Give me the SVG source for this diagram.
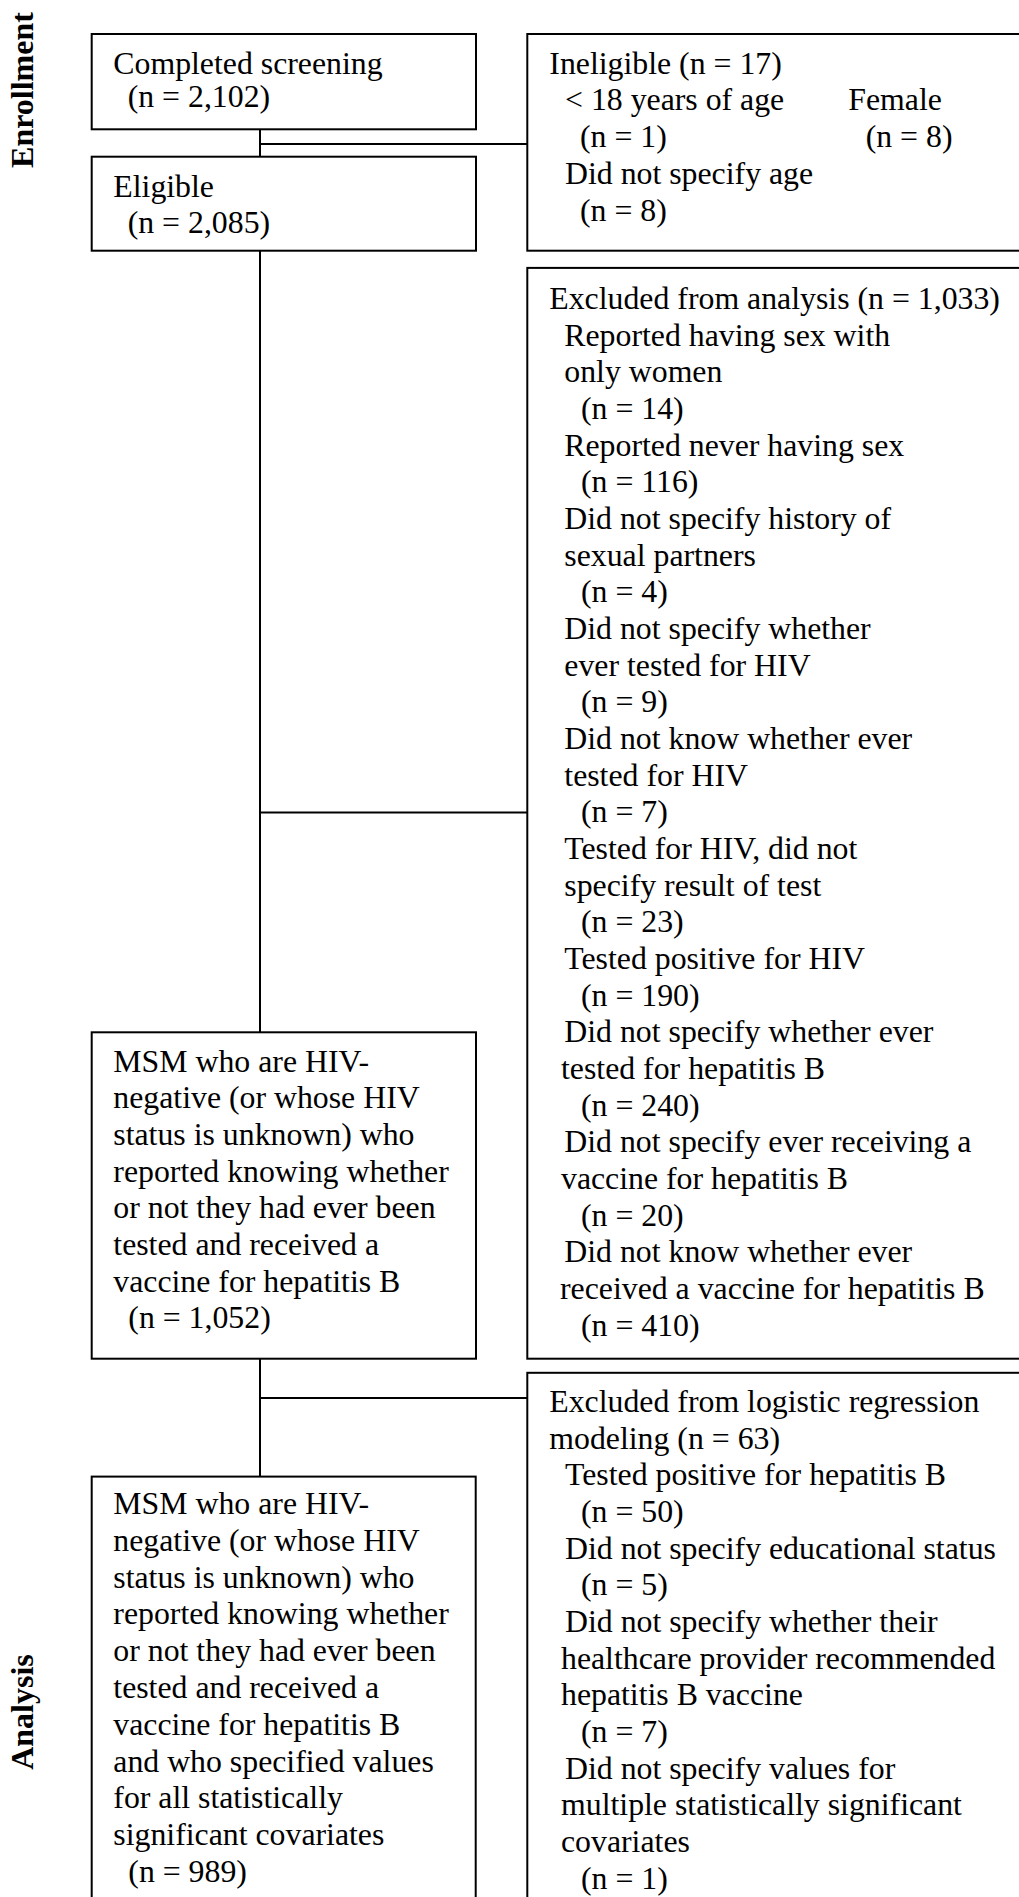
<svg xmlns="http://www.w3.org/2000/svg" width="1019" height="1897" viewBox="0 0 1019 1897">
<style>
.box{fill:#fff;stroke:#000;stroke-width:2}
.t{font-family:"Liberation Serif","Times New Roman",serif;font-size:31.8px;fill:#000}
.lbl{font-family:"Liberation Serif","Times New Roman",serif;font-size:32px;font-weight:bold;fill:#000}
.c{fill:none;stroke:#000;stroke-width:2}
</style>
<rect width="1019" height="1897" fill="#fff"/>
<g id="connectors">
<path class="c" d="M260 129.3V156.7M260 144H527.3"/>
<path class="c" d="M260 250.7V1032.3M260 812.6H527.3"/>
<path class="c" d="M260 1358.7V1476.6M260 1398H527.3"/>
</g>
<g id="label-enrollment"><text class="lbl" text-anchor="middle" transform="translate(33.3,90) rotate(-90)">Enrollment</text></g>
<g id="label-analysis"><text class="lbl" text-anchor="middle" transform="translate(33.3,1712) rotate(-90)">Analysis</text></g>
<g id="completed">
<rect class="box" x="91.7" y="34" width="384.3" height="95.3"/>
<text class="t"><tspan x="113.3" y="74">Completed screening</tspan><tspan x="127.7" y="106.7">(n = 2,102)</tspan></text>
</g>
<g id="eligible">
<rect class="box" x="91.7" y="156.7" width="384.3" height="94"/>
<text class="t"><tspan x="113.3" y="196.7">Eligible</tspan><tspan x="127.7" y="233.3">(n = 2,085)</tspan></text>
</g>
<g id="ineligible">
<rect class="box" x="527.3" y="34" width="520" height="216.7"/>
<text class="t"><tspan x="549.3" y="74">Ineligible (n = 17)</tspan><tspan x="565" y="110">&lt; 18 years of age</tspan><tspan x="848.3" y="110">Female</tspan><tspan x="580" y="146.7">(n = 1)</tspan><tspan x="865.7" y="146.7">(n = 8)</tspan><tspan x="565" y="184.3">Did not specify age</tspan><tspan x="580" y="220.7">(n = 8)</tspan></text>
</g>
<g id="excluded-analysis">
<rect class="box" x="527.3" y="267.9" width="520" height="1090.8"/>
<text class="t">
<tspan x="549.3" y="308.9">Excluded from analysis (n = 1,033)</tspan>
<tspan x="564.3" y="345.6">Reported having sex with</tspan>
<tspan x="564.3" y="382.2">only women</tspan>
<tspan x="581" y="418.9">(n = 14)</tspan>
<tspan x="564.3" y="455.6">Reported never having sex</tspan>
<tspan x="581" y="492.2">(n = 116)</tspan>
<tspan x="564.3" y="528.9">Did not specify history of</tspan>
<tspan x="564.3" y="565.6">sexual partners</tspan>
<tspan x="581" y="602.3">(n = 4)</tspan>
<tspan x="564.3" y="638.9">Did not specify whether</tspan>
<tspan x="564.3" y="675.6">ever tested for HIV</tspan>
<tspan x="581" y="712.3">(n = 9)</tspan>
<tspan x="564.3" y="748.9">Did not know whether ever</tspan>
<tspan x="564.3" y="785.6">tested for HIV</tspan>
<tspan x="581" y="822.3">(n = 7)</tspan>
<tspan x="564.3" y="858.9">Tested for HIV, did not</tspan>
<tspan x="564.3" y="895.6">specify result of test</tspan>
<tspan x="581" y="932.3">(n = 23)</tspan>
<tspan x="564.3" y="969">Tested positive for HIV</tspan>
<tspan x="581" y="1005.6">(n = 190)</tspan>
<tspan x="564.3" y="1042.3">Did not specify whether ever</tspan>
<tspan x="561" y="1079">tested for hepatitis B</tspan>
<tspan x="581" y="1115.6">(n = 240)</tspan>
<tspan x="564.3" y="1152.3">Did not specify ever receiving a</tspan>
<tspan x="561" y="1189">vaccine for hepatitis B</tspan>
<tspan x="581" y="1225.7">(n = 20)</tspan>
<tspan x="564.3" y="1262.3">Did not know whether ever</tspan>
<tspan x="560" y="1299">received a vaccine for hepatitis B</tspan>
<tspan x="581" y="1335.7">(n = 410)</tspan>
</text>
</g>
<g id="msm-known">
<rect class="box" x="91.7" y="1032.3" width="384.3" height="326.4"/>
<text class="t">
<tspan x="113.3" y="1071.7">MSM who are HIV-</tspan>
<tspan x="113.3" y="1108.3">negative (or whose HIV</tspan>
<tspan x="113.3" y="1145">status is unknown) who</tspan>
<tspan x="113.3" y="1181.6">reported knowing whether</tspan>
<tspan x="113.3" y="1218.3">or not they had ever been</tspan>
<tspan x="113.3" y="1254.9">tested and received a</tspan>
<tspan x="113.3" y="1291.6">vaccine for hepatitis B</tspan>
<tspan x="128.3" y="1328.2">(n = 1,052)</tspan>
</text>
</g>
<g id="excluded-logistic">
<rect class="box" x="527.3" y="1372.8" width="520" height="600"/>
<text class="t">
<tspan x="549.3" y="1412.1">Excluded from logistic regression</tspan>
<tspan x="549.3" y="1448.7">modeling (n = 63)</tspan>
<tspan x="565" y="1485.4">Tested positive for hepatitis B</tspan>
<tspan x="581" y="1522">(n = 50)</tspan>
<tspan x="565" y="1558.7">Did not specify educational status</tspan>
<tspan x="581" y="1595.3">(n = 5)</tspan>
<tspan x="565" y="1632">Did not specify whether their</tspan>
<tspan x="561" y="1668.6">healthcare provider recommended</tspan>
<tspan x="561" y="1705.3">hepatitis B vaccine</tspan>
<tspan x="581" y="1741.9">(n = 7)</tspan>
<tspan x="565" y="1778.6">Did not specify values for</tspan>
<tspan x="561" y="1815.2">multiple statistically significant</tspan>
<tspan x="561" y="1851.9">covariates</tspan>
<tspan x="581" y="1888.5">(n = 1)</tspan>
</text>
</g>
<g id="msm-analysis">
<rect class="box" x="91.7" y="1476.6" width="384" height="500"/>
<text class="t">
<tspan x="113.3" y="1514">MSM who are HIV-</tspan>
<tspan x="113.3" y="1550.8">negative (or whose HIV</tspan>
<tspan x="113.3" y="1587.6">status is unknown) who</tspan>
<tspan x="113.3" y="1624.4">reported knowing whether</tspan>
<tspan x="113.3" y="1661.2">or not they had ever been</tspan>
<tspan x="113.3" y="1698">tested and received a</tspan>
<tspan x="113.3" y="1734.8">vaccine for hepatitis B</tspan>
<tspan x="113.3" y="1771.6">and who specified values</tspan>
<tspan x="113.3" y="1808.4">for all statistically</tspan>
<tspan x="113.3" y="1845.2">significant covariates</tspan>
<tspan x="128.3" y="1882">(n = 989)</tspan>
</text>
</g>
</svg>
